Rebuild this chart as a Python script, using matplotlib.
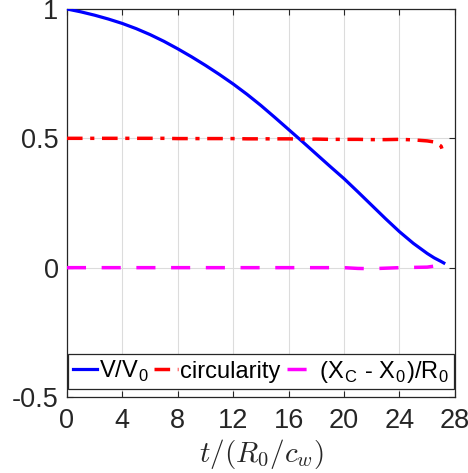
import matplotlib
matplotlib.use("Agg")
import matplotlib.pyplot as plt

plt.rcParams['font.family'] = ['Liberation Sans', 'DejaVu Sans']
plt.rcParams['mathtext.fontset'] = 'cm'

# values
t = [0, 1, 2, 3, 4, 5, 6, 7, 8, 9, 10, 11, 12, 13, 14, 15, 16, 17, 18, 19,
     20, 21, 22, 23, 24, 25, 26, 26.5, 27, 27.2]
vol = [1.0, 0.989, 0.976, 0.961, 0.944, 0.924, 0.901, 0.875, 0.846, 0.815,
       0.782, 0.747, 0.710, 0.670, 0.627, 0.581, 0.534, 0.487, 0.439, 0.391,
       0.344, 0.293, 0.241, 0.189, 0.139, 0.094, 0.055, 0.038, 0.024, 0.018]
circ = [0.5, 0.5, 0.5, 0.5, 0.5, 0.5, 0.5, 0.5, 0.499, 0.499,
        0.499, 0.499, 0.499, 0.498, 0.498, 0.498, 0.498, 0.497, 0.497, 0.496,
        0.496, 0.496, 0.495, 0.495, 0.496, 0.494, 0.49, 0.486, 0.47, 0.44]
xc = [0, 0, 0, 0, 0, 0, 0, 0, 0, 0,
      0, 0, 0, 0, 0, 0, 0, 0, 0, 0,
      0, -0.003, -0.004, -0.002, 0, 0.001, 0.002, 0.006, 0.004, 0.001]

xticks = [0, 4, 8, 12, 16, 20, 24, 28]
yticks = [-0.5, 0, 0.5, 1]
ytick_labels = ['-0.5', '0', '0.5', '1']

fig = plt.figure(figsize=(4.68, 4.73), dpi=100)
ax = fig.add_axes([0.143, 0.1607, 0.829, 0.8203])

ax.plot(t, vol, color='#0000ff', lw=2.3, label=r'V/V$_\mathregular{0}$', zorder=3)
ax.plot(t, circ, color='#ff0000', lw=2.5, ls=(0, (4.5, 2.2, 1.2, 2.2)),
        label='circularity', zorder=3)
ax.plot(t, xc, color='#ff00ff', lw=2.5, ls=(0, (5.5, 4.5)),
        label=r' (X$_\mathregular{C}$ - X$_\mathregular{0}$)/R$_\mathregular{0}$', zorder=3)

ax.set_xlim(0, 28)
ax.set_ylim(-0.5, 1)
ax.set_xticks(xticks)
ax.set_yticks(yticks)
ax.set_yticklabels(ytick_labels)
ax.grid(True, color='#dcdcdc', lw=0.8)
ax.set_axisbelow(True)
ax.tick_params(direction='in', top=True, right=True, labelsize=19.5,
               colors='#262626', length=4, width=0.8)
ax.tick_params(axis='x', pad=8)
ax.tick_params(axis='y', pad=6)
for s in ax.spines.values():
    s.set_color('#262626')
    s.set_linewidth(0.9)

ax.set_xlabel(r'$t/(R_0/c_w)$', fontsize=21, color='#262626', labelpad=2)

leg = ax.legend(loc='lower center', bbox_to_anchor=(0.5, 0.02), ncol=3,
                fontsize=17, handlelength=1.0, handletextpad=0.1,
                columnspacing=0.25, borderpad=0.2, borderaxespad=0,
                fancybox=False, framealpha=1, edgecolor='#262626')
leg.get_frame().set_linewidth(0.9)

fig.savefig('out.png', dpi=100)
